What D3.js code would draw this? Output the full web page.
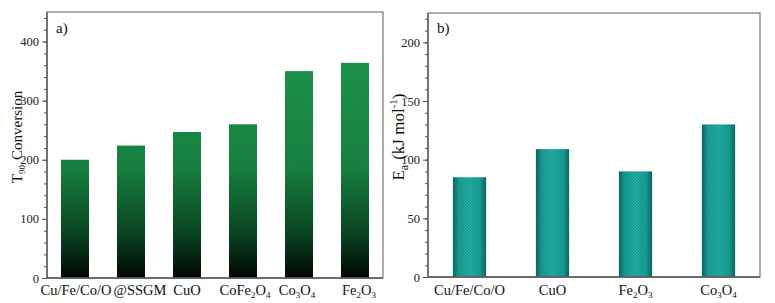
<!DOCTYPE html>
<html>
<head>
<meta charset="utf-8">
<script src="https://cdn.jsdelivr.net/npm/d3@7"></script>
<style>
  body { margin: 0; background: #fff; }
  svg text { font-family: "Liberation Serif", "Times New Roman", "DejaVu Serif", serif !important; white-space: pre; }
</style>
</head>
<body>
<svg id="chart" width="775" height="303"></svg>
<script>
// panel a data
var catsA = ["Cu/Fe/Co/O", "@SSGM", "CuO", "CoFe2O4", "Co3O4", "Fe2O3"];
var valsA = [200, 224, 247, 260, 350, 364];
var ticksA = [0, 100, 200, 300, 400];

// panel b data
var catsB = ["Cu/Fe/Co/O", "CuO", "Fe2O3", "Co3O4"];
var valsB = [85, 109, 90, 130];
var ticksB = [0, 50, 100, 150, 200];

// chemical labels: [text, isSub] pieces
var labelParts = {
  "CoFe2O4": [["CoFe", 0], ["2", 1], ["O", 0], ["4", 1]],
  "Co3O4": [["Co", 0], ["3", 1], ["O", 0], ["4", 1]],
  "Fe2O3": [["Fe", 0], ["2", 1], ["O", 0], ["3", 1]]
};

var svg = d3.select("#chart");
var defs = svg.append("defs");

// green vertical fade to black
var gA = defs.append("linearGradient")
  .attr("id", "gradA")
  .attr("gradientUnits", "userSpaceOnUse")
  .attr("x1", 0).attr("y1", 60).attr("x2", 0).attr("y2", 278);
gA.append("stop").attr("offset", 0).attr("stop-color", "#1fa052");
gA.append("stop").attr("offset", 0.5).attr("stop-color", "#178c45");
gA.append("stop").attr("offset", 0.8).attr("stop-color", "#0a4a22");
gA.append("stop").attr("offset", 1).attr("stop-color", "#010603");

// teal, dark at the sides
var gB = defs.append("linearGradient")
  .attr("id", "gradB")
  .attr("x1", 0).attr("y1", 0).attr("x2", 1).attr("y2", 0);
gB.append("stop").attr("offset", 0).attr("stop-color", "#0b6f69");
gB.append("stop").attr("offset", 0.18).attr("stop-color", "#1aa89e");
gB.append("stop").attr("offset", 0.5).attr("stop-color", "#22b6ac");
gB.append("stop").attr("offset", 0.82).attr("stop-color", "#1aa89e");
gB.append("stop").attr("offset", 1).attr("stop-color", "#0b6f69");

// checker texture
var pat = defs.append("pattern")
  .attr("id", "checker")
  .attr("patternUnits", "userSpaceOnUse")
  .attr("width", 3).attr("height", 3);
pat.append("rect").attr("width", 1.5).attr("height", 1.5).attr("fill", "rgba(0,0,0,0.18)");
pat.append("rect").attr("x", 1.5).attr("y", 1.5).attr("width", 1.5).attr("height", 1.5).attr("fill", "rgba(0,0,0,0.18)");

function drawLabel(sel, name, x, y, size) {
  var t = sel.append("text")
    .attr("x", x).attr("y", y)
    .attr("text-anchor", "middle")
    .attr("font-size", size)
    .attr("fill", "#111");
  var parts = labelParts[name];
  if(!parts) { t.text(name); return; }
  parts.forEach(function(p, i) {
    var ts = t.append("tspan").text(p[0]);
    if(p[1]) ts.attr("font-size", size * 0.62).attr("dy", 3);
    else if(i > 0) ts.attr("dy", -3);
  });
}

function panel(o) {
  var g = svg.append("g");
  var x = d3.scaleBand().domain(o.cats).range([o.left, o.right])
    .paddingInner(o.padIn).paddingOuter(o.padOut);
  var y = d3.scaleLinear().domain([0, o.max]).range([o.bottom, o.top]);

  //BARS
  g.selectAll(".bar").data(o.vals).enter()
    .append("rect")
    .attr("x", function(d, i) { return x(o.cats[i]); })
    .attr("y", function(d) { return y(d); })
    .attr("width", x.bandwidth())
    .attr("height", function(d) { return o.bottom - y(d); })
    .attr("fill", o.fill);
  g.selectAll(".tex").data(o.vals).enter()
    .append("rect")
    .attr("x", function(d, i) { return x(o.cats[i]); })
    .attr("y", function(d) { return y(d); })
    .attr("width", x.bandwidth())
    .attr("height", function(d) { return o.bottom - y(d); })
    .attr("fill", "url(#checker)");

  //frame
  g.append("rect")
    .attr("x", o.left).attr("y", o.top)
    .attr("width", o.right - o.left).attr("height", o.bottom - o.top)
    .attr("fill", "none").attr("stroke", "#777").attr("stroke-width", 1.2);
  g.append("path")
    .attr("d", "M" + o.left + "," + o.top + "V" + o.bottom + "H" + o.right)
    .attr("fill", "none").attr("stroke", "#555").attr("stroke-width", 1.3);

  //y axis, minor then major
  var minor = d3.range(0, o.max + 0.1, o.minorStep);
  g.append("g")
    .attr("transform", "translate(" + o.left + ",0)")
    .call(d3.axisLeft(y).tickValues(minor).tickSize(3).tickFormat(""))
    .call(function(a) { a.select(".domain").remove(); a.selectAll("line").attr("stroke", "#555"); });
  g.append("g")
    .attr("transform", "translate(" + o.left + ",0)")
    .call(d3.axisLeft(y).tickValues(o.ticks).tickSize(5).tickPadding(3))
    .call(function(a) {
      a.select(".domain").remove();
      a.selectAll("line").attr("stroke", "#555");
      a.selectAll("text").attr("font-size", 12.5).attr("fill", "#222");
    });

  //x labels
  o.cats.forEach(function(c, i) {
    drawLabel(g, c, x(c) + x.bandwidth() / 2 + (o.shift[i] || 0), 295, 14.5);
  });

  //panel tag
  g.append("text")
    .attr("x", o.left + 9).attr("y", 33)
    .attr("font-size", 15).attr("fill", "#111")
    .text(o.tag);

  return g;
}

panel({
  cats: catsA, vals: valsA, ticks: ticksA, max: 450, minorStep: 20,
  left: 47, right: 383, top: 12, bottom: 278,
  padIn: 0.5, padOut: 0.25, fill: "url(#gradA)", tag: "a)",
  shift: [1, 9, 0, 2, -2, 4]
});

panel({
  cats: catsB, vals: valsB, ticks: ticksB, max: 225, minorStep: 10,
  left: 428, right: 760, top: 13, bottom: 277,
  padIn: 0.6, padOut: 0.3, fill: "url(#gradB)", tag: "b)",
  shift: [0, 0, 0, 0]
});

// y titles
var tA = svg.append("text")
  .attr("transform", "translate(22,137) rotate(-90)")
  .attr("text-anchor", "middle")
  .attr("font-size", 15).attr("fill", "#111");
tA.append("tspan").text("T");
tA.append("tspan").text("90").attr("font-size", 9).attr("dy", 3);
tA.append("tspan").text("Conversion").attr("dy", -3).attr("dx", 5);

var tB = svg.append("text")
  .attr("transform", "translate(404,137) rotate(-90)")
  .attr("text-anchor", "middle")
  .attr("font-size", 17).attr("fill", "#111");
tB.append("tspan").text("E");
tB.append("tspan").text("a").attr("font-size", 12).attr("dy", 4);
tB.append("tspan").text("(kJ mol").attr("dy", -4).attr("dx", 5);
tB.append("tspan").text("-1").attr("font-size", 11).attr("dy", -7);
tB.append("tspan").text(")").attr("dy", 7);
</script>
</body>
</html>
